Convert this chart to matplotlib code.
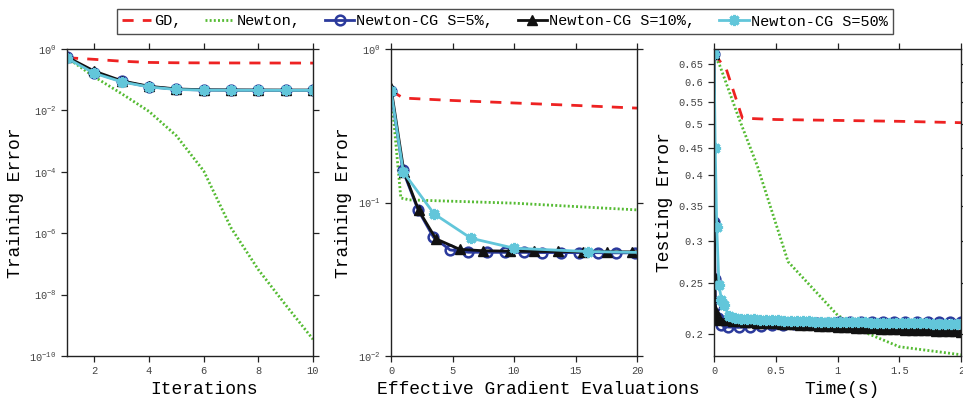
import matplotlib
matplotlib.use("Agg")
import matplotlib.pyplot as plt
from matplotlib.ticker import FixedLocator, FixedFormatter, NullLocator

plt.rcParams['font.family'] = ['Liberation Mono', 'DejaVu Sans Mono']
plt.rcParams['mathtext.fontset'] = 'custom'
plt.rcParams['mathtext.rm'] = 'Liberation Mono'
plt.rcParams['mathtext.default'] = 'rm'

# ---- series labels ----
labels = ["GD,", "Newton,", "Newton-CG S=5%,", "Newton-CG S=10%,", "Newton-CG S=50%"]

# ---- panel 1: training error vs iterations ----
iters = [1, 2, 3, 4, 5, 6, 7, 8, 9, 10]
it_gd = [0.52, 0.46, 0.40, 0.365, 0.356, 0.353, 0.351, 0.350, 0.349, 0.348]
it_newton = [0.52, 0.124, 0.035, 0.0093, 1.5e-3, 1.07e-4, 1.5e-6, 6.5e-8, 4.6e-9, 3.5e-10]
it_cg5 = [0.53, 0.170, 0.088, 0.059, 0.049, 0.046, 0.0455, 0.0452, 0.0450, 0.0450]
it_cg10 = [0.55, 0.190, 0.092, 0.061, 0.050, 0.047, 0.0465, 0.0462, 0.0460, 0.0460]
it_cg50 = [0.50, 0.162, 0.085, 0.058, 0.048, 0.0458, 0.0454, 0.0452, 0.0450, 0.0450]

# ---- panel 2: training error vs effective gradient evaluations ----
ev_gd_x = [0, 1, 5, 10, 15, 20]
ev_gd_y = [0.535, 0.479, 0.462, 0.445, 0.429, 0.412]
ev_newton_x = [0, 0.8, 1.5, 10, 20]
ev_newton_y = [0.535, 0.107, 0.104, 0.099, 0.0895]
ev_cg5_x = [0, 0.95, 2.2, 3.45, 4.8, 6.3, 7.8, 9.3, 10.8, 12.3, 13.8, 15.3, 16.8, 18.3, 19.8, 21.3]
ev_cg5_y = [0.535, 0.163, 0.0895, 0.0594, 0.0491, 0.0474, 0.0474, 0.0473, 0.0473, 0.0472,
            0.0472, 0.0471, 0.0471, 0.0470, 0.0470, 0.0470]
ev_cg10_x = [0, 1.05, 2.25, 3.65, 5.6, 7.5, 9.7, 11.65, 13.6, 15.6, 17.6, 19.6, 21.6]
ev_cg10_y = [0.56, 0.159, 0.089, 0.058, 0.0495, 0.0485, 0.0482, 0.0480, 0.0480, 0.0478,
             0.0478, 0.0477, 0.0477]
ev_cg50_x = [0, 1.0, 3.5, 6.5, 10.0, 16.0, 22.0]
ev_cg50_y = [0.535, 0.158, 0.0844, 0.0585, 0.0504, 0.0479, 0.0470]

# ---- panel 3: testing error vs time ----
tm_gd_x = [0, 0.1, 0.23, 0.5, 1.0, 1.5, 2.0]
tm_gd_y = [0.68, 0.635, 0.513, 0.510, 0.508, 0.506, 0.503]
tm_newton_x = [0, 0.05, 0.2, 0.35, 0.6, 1.0, 1.25, 1.5, 2.0]
tm_newton_y = [0.68, 0.643, 0.514, 0.417, 0.274, 0.217, 0.200, 0.189, 0.1825]
tm_cg5_x = [0, 0.004, 0.008, 0.012, 0.03, 0.06, 0.11, 0.20, 0.29, 0.38, 0.47, 0.56, 0.65,
            0.74, 0.83, 0.92, 1.01, 1.10, 1.19, 1.28, 1.37, 1.46, 1.55, 1.64, 1.73, 1.82,
            1.91, 2.00]
tm_cg5_y = [0.68, 0.326, 0.254, 0.226, 0.214, 0.208, 0.2060, 0.2057, 0.2062, 0.2068, 0.2075,
            0.2082, 0.2088, 0.2093, 0.2098, 0.2101, 0.2104, 0.2105, 0.2106, 0.2107, 0.2107,
            0.2108, 0.2108, 0.2108, 0.2108, 0.2108, 0.2107, 0.2107]
tm_cg10_x = [0, 0.003, 0.006, 0.01, 0.015, 0.025, 0.05, 0.10, 0.15, 0.20, 0.25, 0.30, 0.35,
             0.40, 0.45, 0.50, 0.55, 0.60, 0.65, 0.70, 0.75, 0.80, 0.85, 0.90, 0.95, 1.00,
             1.05, 1.10, 1.15, 1.20, 1.25, 1.30, 1.35, 1.40, 1.45, 1.50, 1.55, 1.60, 1.65,
             1.70, 1.75, 1.80, 1.85, 1.90, 1.95, 2.00]
tm_cg10_y = [0.68, 0.330, 0.255, 0.222, 0.216, 0.2135, 0.2128, 0.2124, 0.2118, 0.2113,
             0.2109, 0.2105, 0.2101, 0.2098, 0.2095, 0.2092, 0.2089, 0.2086, 0.2083, 0.2080,
             0.2077, 0.2074, 0.2071, 0.2068, 0.2065, 0.2062, 0.2059, 0.2056, 0.2054, 0.2051,
             0.2049, 0.2047, 0.2045, 0.2043, 0.2041, 0.2039, 0.2037, 0.2035, 0.2033, 0.2031,
             0.2029, 0.2027, 0.2025, 0.2023, 0.2021, 0.2020]
tm_cg50_x = [0, 0.01, 0.022, 0.04, 0.06, 0.08, 0.12, 0.17, 0.22, 0.27, 0.32, 0.37, 0.42,
             0.47, 0.52, 0.57, 0.62, 0.67, 0.72, 0.77, 0.82, 0.87, 0.92, 0.97, 1.02, 1.07,
             1.12, 1.17, 1.22, 1.27, 1.32, 1.37, 1.42, 1.47, 1.52, 1.57, 1.62, 1.67, 1.72,
             1.77, 1.82, 1.87, 1.92, 1.97, 2.02]
tm_cg50_y = [0.68, 0.45, 0.319, 0.248, 0.232, 0.227, 0.2165, 0.2140, 0.2134, 0.2131, 0.2129,
             0.2127, 0.2125, 0.2123, 0.2121, 0.2119, 0.2117, 0.2115, 0.2113, 0.2111, 0.2110,
             0.2109, 0.2108, 0.2107, 0.2106, 0.2105, 0.2104, 0.2103, 0.2102, 0.2101, 0.2100,
             0.2099, 0.2098, 0.2097, 0.2096, 0.2095, 0.2094, 0.2093, 0.2092, 0.2091, 0.2090,
             0.2089, 0.2088, 0.2088, 0.2087]

# ---- axis ticks ----
p1_xticks = [2, 4, 6, 8, 10]
p1_yticks = [1e-10, 1e-8, 1e-6, 1e-4, 1e-2, 1e0]
p1_yticklabels = ["$10^{-10}$", "$10^{-8}$", "$10^{-6}$", "$10^{-4}$", "$10^{-2}$", "$10^{0}$"]
p2_xticks = [0, 5, 10, 15, 20]
p2_yticks = [1e-2, 1e-1, 1e0]
p2_yticklabels = ["$10^{-2}$", "$10^{-1}$", "$10^{0}$"]
p3_xticks = [0, 0.5, 1, 1.5, 2]
p3_xticklabels = ["0", "0.5", "1", "1.5", "2"]
p3_yticks = [0.2, 0.25, 0.3, 0.35, 0.4, 0.45, 0.5, 0.55, 0.6, 0.65]
p3_yticklabels = ["0.2", "0.25", "0.3", "0.35", "0.4", "0.45", "0.5", "0.55", "0.6", "0.65"]

# ---- styles ----
C_GD = "#ee2222"
C_NT = "#55bb33"
C_CG5 = "#2b3a9c"
C_CG10 = "#111111"
C_CG50 = "#62c6da"
LW = 2.0
ASTERISK = (8, 2, 0)

styles = [
    dict(color=C_GD, lw=LW, ls=(0, (4.0, 3.3))),
    dict(color=C_NT, lw=LW, ls=(0, (0.7, 0.8))),
    dict(color=C_CG5, lw=LW, marker='o', ms=7, mfc='none', mec=C_CG5, mew=1.8),
    dict(color=C_CG10, lw=LW, marker='^', ms=7.5, mfc=C_CG10, mec=C_CG10, mew=1.0),
    dict(color=C_CG50, lw=LW, marker=ASTERISK, ms=8, mec=C_CG50, mew=2.2),
]

fig = plt.figure(figsize=(9.63, 4.03), dpi=100)
W, H = 963.0, 403.0
boxes = [(67, 313), (391, 637), (714, 961)]
top_px, bot_px = 49, 356
axes = [fig.add_axes([l / W, (H - bot_px) / H, (r - l) / W, (bot_px - top_px) / H]) for l, r in boxes]


def style_axes(ax):
    for s in ax.spines.values():
        s.set_color('#222222')
        s.set_linewidth(1.0)
    ax.tick_params(which='both', direction='out', length=4.5, width=0.9, colors='#222222',
                   labelsize=7.5, labelcolor='#444444', top=True, right=True, pad=3)
    ax.yaxis.set_minor_locator(NullLocator())
    ax.xaxis.set_minor_locator(NullLocator())


# panel 1
ax = axes[0]
ax.set_yscale('log')
data1 = [(iters, it_gd), (iters, it_newton), (iters, it_cg5), (iters, it_cg10), (iters, it_cg50)]
handles = []
for (x, y), st in zip(data1, styles):
    h, = ax.plot(x, y, **st)
    handles.append(h)
ax.set_xlim(1, 10)
ax.set_ylim(1e-10, 1)
ax.xaxis.set_major_locator(FixedLocator(p1_xticks))
ax.yaxis.set_major_locator(FixedLocator(p1_yticks))
ax.yaxis.set_major_formatter(FixedFormatter(p1_yticklabels))
ax.set_xlabel("Iterations", fontsize=13)
ax.set_ylabel("Training Error", fontsize=13)
ax.xaxis.set_label_coords(0.555, -0.082)

# panel 2
ax = axes[1]
ax.set_yscale('log')
data2 = [(ev_gd_x, ev_gd_y), (ev_newton_x, ev_newton_y), (ev_cg5_x, ev_cg5_y),
         (ev_cg10_x, ev_cg10_y), (ev_cg50_x, ev_cg50_y)]
for (x, y), st in zip(data2, styles):
    ax.plot(x, y, **st)
ax.set_xlim(0, 20)
ax.set_ylim(1e-2, 1)
ax.xaxis.set_major_locator(FixedLocator(p2_xticks))
ax.yaxis.set_major_locator(FixedLocator(p2_yticks))
ax.yaxis.set_major_formatter(FixedFormatter(p2_yticklabels))
ax.set_xlabel("Effective Gradient Evaluations", fontsize=13)
ax.set_ylabel("Training Error", fontsize=13)
ax.xaxis.set_label_coords(0.598, -0.082)

# panel 3
ax = axes[2]
ax.set_yscale('log')
data3 = [(tm_gd_x, tm_gd_y), (tm_newton_x, tm_newton_y), (tm_cg5_x, tm_cg5_y),
         (tm_cg10_x, tm_cg10_y), (tm_cg50_x, tm_cg50_y)]
for (x, y), st in zip(data3, styles):
    ax.plot(x, y, **st)
ax.set_xlim(0, 2)
ax.set_ylim(0.1815, 0.694)
ax.xaxis.set_major_locator(FixedLocator(p3_xticks))
ax.xaxis.set_major_formatter(FixedFormatter(p3_xticklabels))
ax.yaxis.set_major_locator(FixedLocator(p3_yticks))
ax.yaxis.set_major_formatter(FixedFormatter(p3_yticklabels))
ax.set_xlabel("Time(s)", fontsize=13)
ax.set_ylabel("Testing Error", fontsize=13)
ax.xaxis.set_label_coords(0.518, -0.082)

for ax in axes:
    style_axes(ax)
    ax.xaxis.label.set_va('top')
    ax.yaxis.labelpad = 4

leg = fig.legend(handles, labels, loc='center', bbox_to_anchor=(505 / W, 1 - 21.5 / H),
                 ncol=5, fontsize=11, handlelength=1.9, handletextpad=0.15,
                 columnspacing=1.6, borderpad=0.35, frameon=True, fancybox=False)
leg.get_frame().set_edgecolor('#222222')
leg.get_frame().set_linewidth(1.0)

fig.savefig("out.png", dpi=100)
